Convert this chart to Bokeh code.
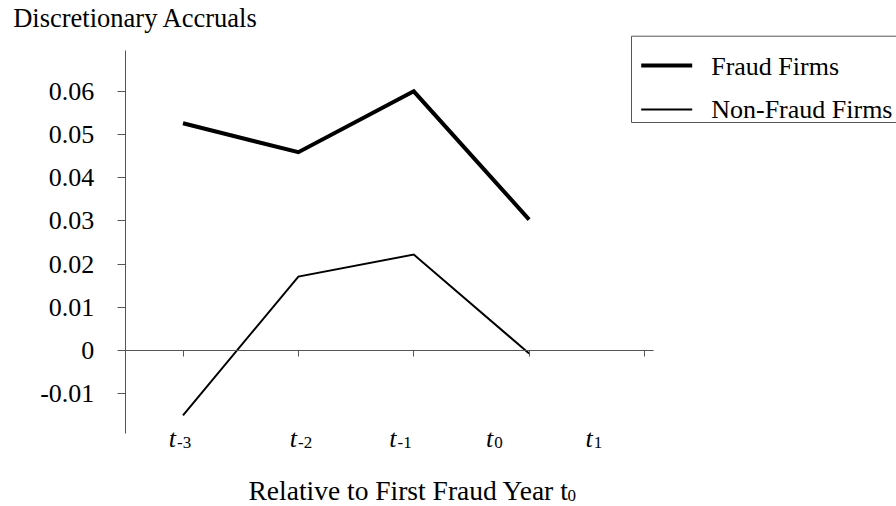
from bokeh.plotting import figure
from bokeh.models import Range1d, LinearAxis, FixedTicker, CustomJSTickFormatter
from bokeh.core.properties import value
from bokeh.embed import file_html
from bokeh.resources import INLINE

# ---------------- data ----------------
period_index = [0, 1, 2, 3]
fraud_firms = [0.0526, 0.0459, 0.0600, 0.0303]
non_fraud_firms = [-0.0150, 0.0171, 0.0222, -0.0007]
y_ticks = [-0.01, 0.0, 0.01, 0.02, 0.03, 0.04, 0.05, 0.06]
x_ticks = [0, 1, 2, 3, 4]
period_base = ["t", "t", "t", "t", "t"]
period_sub = ["-3", "-2", "-1", "0", "1"]
y_title = "Discretionary Accruals"
x_title = "Relative to First Fraud Year t"
x_title_sub = "0"
legend_labels = ["Fraud Firms", "Non-Fraud Firms"]

# ---------------- layout (canvas pixels) ----------------
W, H = 896, 506
X0, DX = 182.5, 115.375      # pixel of first period, pixels per period
Y0, DY = 350.0, 4320.0       # pixel of value 0, pixels per unit
x_start, x_end = -X0 / DX, (W - X0) / DX
y_top, y_bot = Y0 / DY, -(H - Y0) / DY
BASE_SHIFT = 0.36            # svg text baseline correction (fraction of font size)


def fx(cx):
    return (cx - X0) / DX


def fy(cy):
    return (Y0 - cy) / DY


def fyb(baseline, size):
    return fy(baseline - BASE_SHIFT * size)


FONT = "Liberation Serif"
AXIS_COLOR = "#555555"

p = figure(width=W, height=H,
           x_range=Range1d(x_start, x_end), y_range=Range1d(y_bot, y_top),
           x_axis_type=None, y_axis_type=None, min_border=0,
           output_backend="svg", toolbar_location=None)
p.outline_line_color = None
p.background_fill_color = "white"
p.border_fill_color = "white"

# y axis
yax = LinearAxis(fixed_location=-0.5, bounds=(fy(432.7), fy(50.0)),
                 ticker=FixedTicker(ticks=y_ticks, minor_ticks=[]),
                 formatter=CustomJSTickFormatter(code="return Math.abs(tick) < 1e-9 ? '0' : tick.toFixed(2);"))
yax.axis_line_color = AXIS_COLOR
yax.axis_line_width = 1
yax.major_tick_line_color = AXIS_COLOR
yax.major_tick_out = 8
yax.major_tick_in = 0
yax.minor_tick_out = 0
yax.minor_tick_in = 0
yax.major_label_standoff = 23
yax.major_label_text_font = FONT
yax.major_label_text_font_size = "26px"
yax.major_label_text_color = "black"
p.add_layout(yax, "left")

# x axis at zero
xax = LinearAxis(fixed_location=0, bounds=(-0.5, fx(653.0)),
                 ticker=FixedTicker(ticks=x_ticks, minor_ticks=[]),
                 formatter=CustomJSTickFormatter(code="return '';"))
xax.axis_line_color = AXIS_COLOR
xax.axis_line_width = 1
xax.major_tick_line_color = AXIS_COLOR
xax.major_tick_out = 6
xax.major_tick_in = 0
xax.minor_tick_out = 0
xax.minor_tick_in = 0
xax.major_label_text_font_size = "1px"
p.add_layout(xax, "below")

# series
p.line(period_index, fraud_firms, line_width=4, line_color="black", line_join="miter")
p.line(period_index, non_fraud_firms, line_width=2, line_color="black", line_join="miter")

# period labels (t with subscript)
label_junction_px = [175.5, 296.5, 396.0, 492.7, 592.3]
p.text(x=[fx(j) for j in label_junction_px], y=[fyb(447.0, 26)] * 5, text=period_base,
       text_font=value(FONT), text_font_style="italic", text_font_size="26px",
       text_align="right", text_baseline="alphabetic", text_color="black")
p.text(x=[fx(j + 1) for j in label_junction_px], y=[fyb(448.5, 17)] * 5, text=period_sub,
       text_font=value(FONT), text_font_size="17px",
       text_align="left", text_baseline="alphabetic", text_color="black")

# y title
p.text(x=[fx(12.7)], y=[fyb(27.5, 26.5)], text=[y_title],
       text_font=value(FONT), text_font_size="26.5px",
       text_align="left", text_baseline="alphabetic", text_color="black")

# x title
p.text(x=[fx(248.0)], y=[fyb(499.5, 27.5)], text=[x_title],
       text_font=value(FONT), text_font_size="27.5px",
       text_align="left", text_baseline="alphabetic", text_color="black")
p.text(x=[fx(248.0 + 319.0)], y=[fyb(501.0, 17)], text=[x_title_sub],
       text_font=value(FONT), text_font_size="17px",
       text_align="left", text_baseline="alphabetic", text_color="black")

# legend (box cut by right edge as in the original)
p.quad(left=[fx(631.0)], right=[fx(1000.0)], top=[fy(35.7)], bottom=[fy(122.0)],
       fill_color=None, line_color=AXIS_COLOR, line_width=1)
p.segment(x0=[fx(640.7)], x1=[fx(691.7)], y0=[fy(65.0)], y1=[fy(65.0)],
          line_color="black", line_width=4)
p.segment(x0=[fx(640.7)], x1=[fx(691.7)], y0=[fy(109.0)], y1=[fy(109.0)],
          line_color="black", line_width=2)
p.text(x=[fx(710.7), fx(710.7)], y=[fyb(75.0, 26), fyb(118.5, 26)], text=legend_labels,
       text_font=value(FONT), text_font_size="26px",
       text_align="left", text_baseline="alphabetic", text_color="black")

open("out.html", "w").write(file_html(p, INLINE))
